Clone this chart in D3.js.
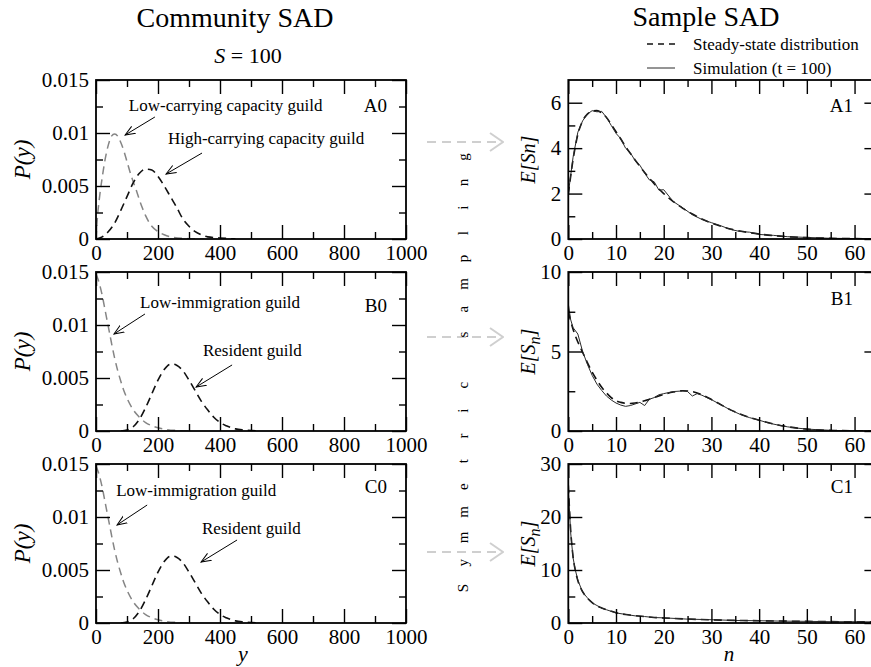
<!DOCTYPE html>
<html>
<head>
<meta charset="utf-8">
<script src="https://cdn.jsdelivr.net/npm/d3@7"></script>
<style>
  body { margin: 0; background: #fff; }
  svg { display: block; }
  text { font-family: "Liberation Serif", "DejaVu Serif", serif; fill: #000; }
</style>
</head>
<body>
<div id="chart"></div>
<script>
// ---- community SAD, P(y) ----
const a0LowY  = [0, 5, 10, 20, 30, 40, 50, 60, 70, 80, 90, 100, 110, 120, 130, 140, 150, 160, 180, 200, 220, 250, 300, 350];
const a0LowP  = [0, 0.0022, 0.0036, 0.0058, 0.0076, 0.0089, 0.0097, 0.0099, 0.0097, 0.0091, 0.0083, 0.0073, 0.0063, 0.0054, 0.0046, 0.0037, 0.0029, 0.0022, 0.0012, 0.0007, 0.0004, 0.00015, 0.00003, 0];
const a0HighY = [0, 20, 40, 60, 80, 100, 120, 140, 160, 180, 200, 220, 240, 260, 280, 300, 320, 340, 360, 400, 450];
const a0HighP = [0, 0.0002, 0.0007, 0.0015, 0.0027, 0.0040, 0.0053, 0.0062, 0.0066, 0.0065, 0.0059, 0.0050, 0.0040, 0.0030, 0.0019, 0.0012, 0.0007, 0.0004, 0.0002, 0.0001, 0];

// B0 and C0 show the same two guilds
const immLowY = [0, 10, 20, 30, 40, 50, 60, 70, 80, 90, 100, 120, 140, 160, 180, 200, 230, 260, 300];
const immLowP = [0.0148, 0.0140, 0.0128, 0.0113, 0.0098, 0.0083, 0.0069, 0.0057, 0.0047, 0.0038, 0.0031, 0.0020, 0.0013, 0.0008, 0.0005, 0.0003, 0.00013, 0.00005, 0];
const residY  = [80, 100, 120, 140, 160, 180, 200, 220, 240, 250, 260, 280, 300, 320, 340, 360, 380, 400, 420, 450, 480, 520];
const residP  = [0, 0.0001, 0.0004, 0.0011, 0.0022, 0.0035, 0.0048, 0.0058, 0.0063, 0.0063, 0.0062, 0.0057, 0.0048, 0.0038, 0.0028, 0.0020, 0.0013, 0.0008, 0.0005, 0.0002, 0.0001, 0];

// ---- sample SAD, E[Sn] ----
const nA1      = [0, 1, 2, 3, 4, 5, 6, 7, 8, 9, 10, 11, 12, 13, 14, 15, 16, 17, 18, 19, 20, 22, 24, 26, 28, 30, 32, 34, 36, 38, 40, 43, 46, 50, 55, 60, 65];
const a1Steady = [1.95, 3.5, 4.6, 5.2, 5.5, 5.63, 5.65, 5.55, 5.35, 5.05, 4.72, 4.4, 4.07, 3.77, 3.48, 3.2, 2.93, 2.67, 2.43, 2.2, 2.0, 1.65, 1.35, 1.1, 0.88, 0.7, 0.56, 0.44, 0.35, 0.28, 0.22, 0.15, 0.1, 0.06, 0.03, 0.015, 0.01];
const a1Sim    = [2.0, 3.6, 4.7, 5.2, 5.5, 5.65, 5.6, 5.62, 5.35, 5.0, 4.65, 4.42, 4.0, 3.8, 3.45, 3.25, 2.9, 2.6, 2.52, 2.15, 2.17, 1.65, 1.37, 1.07, 0.86, 0.72, 0.58, 0.42, 0.33, 0.3, 0.2, 0.16, 0.1, 0.07, 0.03, 0.02, 0.01];

const nB1      = [0, 1, 2, 3, 4, 5, 6, 7, 8, 9, 10, 11, 12, 13, 14, 15, 16, 17, 18, 20, 22, 24, 26, 28, 30, 32, 34, 36, 38, 40, 42, 44, 46, 48, 50, 53, 56, 60, 65];
const b1Steady = [7.5, 6.4, 5.6, 4.95, 4.3, 3.7, 3.2, 2.75, 2.4, 2.1, 1.9, 1.8, 1.74, 1.73, 1.76, 1.82, 1.9, 2.0, 2.1, 2.3, 2.45, 2.53, 2.48, 2.28, 1.98, 1.65, 1.33, 1.07, 0.85, 0.68, 0.52, 0.38, 0.27, 0.18, 0.12, 0.06, 0.03, 0.01, 0];
const nB1Sim   = [0, 0.5, 1, 2, 3, 4, 5, 6, 7, 8, 9, 10, 11, 12, 13, 14, 15, 16, 17, 18, 19, 20, 22, 24, 25, 26, 27, 28, 30, 32, 34, 36, 38, 40, 42, 44, 46, 48, 50, 53, 56, 60, 65];
const b1Sim    = [8.0, 7.0, 6.5, 6.1, 5.0, 4.2, 3.5, 2.95, 2.55, 2.2, 1.95, 1.76, 1.63, 1.55, 1.6, 1.7, 1.8, 1.6, 2.0, 2.1, 2.28, 2.35, 2.48, 2.52, 2.48, 2.2, 2.35, 2.25, 1.97, 1.65, 1.32, 1.05, 0.84, 0.68, 0.5, 0.37, 0.26, 0.18, 0.12, 0.07, 0.03, 0.01, 0];

const nC1      = [0, 0.5, 1, 1.5, 2, 3, 4, 5, 6, 7, 8, 10, 12, 14, 16, 18, 20, 25, 30, 35, 40, 45, 50, 55, 60, 65];
const c1Steady = [26, 17.5, 12.5, 9.8, 8.0, 5.9, 4.7, 3.85, 3.25, 2.85, 2.5, 1.95, 1.6, 1.38, 1.2, 1.05, 0.95, 0.75, 0.6, 0.5, 0.42, 0.36, 0.3, 0.26, 0.23, 0.2];
const c1Sim    = [25.5, 17, 12.3, 9.9, 8.1, 5.8, 4.75, 3.8, 3.3, 2.8, 2.5, 1.9, 1.62, 1.35, 1.22, 1.03, 0.97, 0.73, 0.62, 0.48, 0.43, 0.35, 0.31, 0.25, 0.24, 0.2];

// ---- ticks ----
const leftXTicks  = [0, 200, 400, 600, 800, 1000];
const leftXMinor  = [100, 300, 500, 700, 900];
const leftYTicks  = [0, 0.005, 0.01, 0.015];
const leftYMinor  = [0.0025, 0.0075, 0.0125];
const rightXTicks = [0, 10, 20, 30, 40, 50, 60];
const rightXMinor = [5, 15, 25, 35, 45, 55];
const a1YTicks = [0, 2, 4, 6],       a1YMinor = [1, 3, 5];
const b1YTicks = [0, 5, 10],         b1YMinor = [2.5, 7.5];
const c1YTicks = [0, 10, 20, 30],    c1YMinor = [5, 15, 25];

const samplingText = 'Symmetric sampling';

const W = 871, H = 667;
const svg = d3.select('#chart').append('svg').attr('width', W).attr('height', H);

const defs = svg.append('defs');
defs.append('marker').attr('id', 'head')
    .attr('viewBox', '0 -5 11 10').attr('refX', 10).attr('refY', 0)
    .attr('markerUnits', 'userSpaceOnUse').attr('markerWidth', 11).attr('markerHeight', 10)
    .attr('orient', 'auto')
  .append('path').attr('d', 'M0,-4L10,0L0,4').attr('fill', 'none').attr('stroke', '#000').attr('stroke-width', 1);
defs.append('marker').attr('id', 'bighead')
    .attr('viewBox', '0 -11 15 22').attr('refX', 14).attr('refY', 0)
    .attr('markerUnits', 'userSpaceOnUse').attr('markerWidth', 15).attr('markerHeight', 22)
    .attr('orient', 'auto')
  .append('path').attr('d', 'M1,-9L14,0L1,9').attr('fill', 'none').attr('stroke', '#cfcfcf').attr('stroke-width', 2);

const rows = [[80, 239], [272, 431], [464, 623]];
const leftRange = [96, 406], rightRange = [568.3, 878.4];

function zip(xs, ys) { return xs.map((v, i) => [v, ys[i]]); }

function drawAxes(g, x, y, xt, xm, yt, ym, yFmt) {
  const [x0, x1] = x.range(), [y1, y0] = y.range();
  const put = (axis, tr, showLabels) => {
    const a = g.append('g').attr('transform', tr).call(axis)
      .attr('font-family', null).attr('font-size', null);
    a.select('.domain').remove();
    a.selectAll('line').attr('stroke', '#000').attr('stroke-width', 1.4);
    a.selectAll('text').style('font-size', '21px').attr('fill', '#000');
    if (!showLabels) a.selectAll('text').remove();
  };
  put(d3.axisBottom(x).tickValues(xt).tickSize(-14).tickPadding(6).tickFormat(d3.format('d')), `translate(0,${y1})`, true);
  put(d3.axisBottom(x).tickValues(xm).tickSize(-7), `translate(0,${y1})`, false);
  put(d3.axisTop(x).tickValues(xt).tickSize(-14), `translate(0,${y0})`, false);
  put(d3.axisTop(x).tickValues(xm).tickSize(-7), `translate(0,${y0})`, false);
  put(d3.axisLeft(y).tickValues(yt).tickSize(-14).tickPadding(7).tickFormat(yFmt), `translate(${x0},0)`, true);
  put(d3.axisLeft(y).tickValues(ym).tickSize(-7), `translate(${x0},0)`, false);
  put(d3.axisRight(y).tickValues(yt).tickSize(-14), `translate(${x1},0)`, false);
  put(d3.axisRight(y).tickValues(ym).tickSize(-7), `translate(${x1},0)`, false);
  g.append('rect').attr('x', x0).attr('y', y0).attr('width', x1 - x0).attr('height', y1 - y0)
    .attr('fill', 'none').attr('stroke', '#000').attr('stroke-width', 1.8);
}

let clipId = 0;
function panel(o) {
  const x = d3.scaleLinear().domain(o.xDomain).range(o.xRange);
  const y = d3.scaleLinear().domain(o.yDomain).range([o.row[1], o.row[0]]);
  const g = svg.append('g');
  const id = 'clip' + (clipId++);
  defs.append('clipPath').attr('id', id).append('rect')
    .attr('x', o.xRange[0]).attr('y', o.row[0])
    .attr('width', o.xRange[1] - o.xRange[0]).attr('height', o.row[1] - o.row[0]);
  const line = d3.line().x(d => x(d[0])).y(d => y(d[1]));
  const cg = g.append('g').attr('clip-path', `url(#${id})`);
  o.series.forEach(s => {
    cg.append('path').datum(s.data)
      .attr('d', line.curve(s.curve || d3.curveMonotoneX))
      .attr('fill', 'none').attr('stroke', s.color).attr('stroke-width', s.width)
      .attr('stroke-dasharray', s.dash || null);
  });
  drawAxes(g, x, y, o.xt, o.xm, o.yt, o.ym, o.yFmt);
  (o.notes || []).forEach(n => {
    g.append('text').attr('x', x(n.tx)).attr('y', y(n.ty)).style('font-size', '17px').text(n.text);
    g.append('line').attr('x1', x(n.from[0])).attr('y1', y(n.from[1]))
      .attr('x2', x(n.to[0])).attr('y2', y(n.to[1]))
      .attr('stroke', '#000').attr('stroke-width', 1).attr('marker-end', 'url(#head)');
  });
  g.append('text').attr('x', o.label[1]).attr('y', o.label[2]).attr('text-anchor', 'end')
    .style('font-size', '19px').text(o.label[0]);
  return {x, y};
}

const gray = {color: '#858585', width: 1.5, dash: '8,5'};
const black = {color: '#111', width: 1.6, dash: '8,5'};
const sim = {color: '#2a2a2a', width: 1, curve: d3.curveLinear};
const pFmt = d => d === 0 ? '0' : String(d);

// left column
panel({
  row: rows[0], xRange: leftRange, xDomain: [0, 1000], yDomain: [0, 0.015],
  xt: leftXTicks, xm: leftXMinor, yt: leftYTicks, ym: leftYMinor, yFmt: pFmt,
  series: [Object.assign({data: zip(a0LowY, a0LowP)}, gray), Object.assign({data: zip(a0HighY, a0HighP)}, black)],
  notes: [
    {text: 'Low-carrying capacity guild', tx: 106, ty: 0.01208, from: [190, 0.01151], to: [94, 0.00981]},
    {text: 'High-carrying capacity guild', tx: 232, ty: 0.00896, from: [342, 0.00811], to: [226, 0.00613]}
  ],
  label: ['A0', 387, 111.7]
});
panel({
  row: rows[1], xRange: leftRange, xDomain: [0, 1000], yDomain: [0, 0.015],
  xt: leftXTicks, xm: leftXMinor, yt: leftYTicks, ym: leftYMinor, yFmt: pFmt,
  series: [Object.assign({data: zip(immLowY, immLowP)}, gray), Object.assign({data: zip(residY, residP)}, black)],
  notes: [
    {text: 'Low-immigration guild', tx: 142, ty: 0.01158, from: [158, 0.01104], to: [58, 0.00915]},
    {text: 'Resident guild', tx: 345, ty: 0.00708, from: [439, 0.00623], to: [323, 0.00415]}
  ],
  label: ['B0', 387, 311.7]
});
panel({
  row: rows[2], xRange: leftRange, xDomain: [0, 1000], yDomain: [0, 0.015],
  xt: leftXTicks, xm: leftXMinor, yt: leftYTicks, ym: leftYMinor, yFmt: pFmt,
  series: [Object.assign({data: zip(immLowY, immLowP)}, gray), Object.assign({data: zip(residY, residP)}, black)],
  notes: [
    {text: 'Low-immigration guild', tx: 65, ty: 0.01198, from: [165, 0.01113], to: [68, 0.00925]},
    {text: 'Resident guild', tx: 342, ty: 0.0084, from: [455, 0.00783], to: [339, 0.00575]}
  ],
  label: ['C0', 387, 493]
});

// right column
const steady = {color: '#111', width: 1.6, dash: '8,5'};
panel({
  row: rows[0], xRange: rightRange, xDomain: [0, 65], yDomain: [0, 7],
  xt: rightXTicks, xm: rightXMinor, yt: a1YTicks, ym: a1YMinor, yFmt: d3.format('d'),
  series: [Object.assign({data: zip(nA1, a1Steady)}, steady), Object.assign({data: zip(nA1, a1Sim)}, sim)],
  label: ['A1', 853, 111.7]
});
panel({
  row: rows[1], xRange: rightRange, xDomain: [0, 65], yDomain: [0, 10],
  xt: rightXTicks, xm: rightXMinor, yt: b1YTicks, ym: b1YMinor, yFmt: d3.format('d'),
  series: [Object.assign({data: zip(nB1, b1Steady)}, steady), Object.assign({data: zip(nB1Sim, b1Sim)}, sim)],
  label: ['B1', 853, 305]
});
panel({
  row: rows[2], xRange: rightRange, xDomain: [0, 65], yDomain: [0, 30],
  xt: rightXTicks, xm: rightXMinor, yt: c1YTicks, ym: c1YMinor, yFmt: d3.format('d'),
  series: [Object.assign({data: zip(nC1, c1Steady)}, steady), Object.assign({data: zip(nC1, c1Sim)}, sim)],
  label: ['C1', 853, 493]
});

// titles
svg.append('text').attr('x', 235).attr('y', 27).attr('text-anchor', 'middle').style('font-size', '28px').text('Community SAD');
svg.append('text').attr('x', 706).attr('y', 26).attr('text-anchor', 'middle').style('font-size', '28px').text('Sample SAD');
const sTitle = svg.append('text').attr('x', 248).attr('y', 63).attr('text-anchor', 'middle').style('font-size', '22px');
sTitle.append('tspan').style('font-style', 'italic').text('S');
sTitle.append('tspan').text(' = 100');

// legend
svg.append('line').attr('x1', 647).attr('x2', 675).attr('y1', 44).attr('y2', 44)
  .attr('stroke', '#111').attr('stroke-width', 1.6).attr('stroke-dasharray', '6,5');
svg.append('text').attr('x', 693).attr('y', 50).style('font-size', '17px').text('Steady-state distribution');
svg.append('line').attr('x1', 647).attr('x2', 675).attr('y1', 68).attr('y2', 68)
  .attr('stroke', '#2a2a2a').attr('stroke-width', 1);
svg.append('text').attr('x', 693).attr('y', 74).style('font-size', '17px').text('Simulation (t = 100)');

// axis titles
rows.forEach(r => {
  const cy = (r[0] + r[1]) / 2;
  svg.append('text').attr('transform', `translate(30,${cy}) rotate(-90)`).attr('text-anchor', 'middle')
    .style('font-size', '23px').style('font-style', 'italic').text('P(y)');
});
svg.append('text').attr('transform', `translate(535,${(rows[0][0] + rows[0][1]) / 2}) rotate(-90)`)
  .attr('text-anchor', 'middle').style('font-size', '20px').style('font-style', 'italic').text('E[Sn]');
[rows[1], rows[2]].forEach(r => {
  const t = svg.append('text').attr('transform', `translate(535,${(r[0] + r[1]) / 2}) rotate(-90)`)
    .attr('text-anchor', 'middle').style('font-size', '20px').style('font-style', 'italic');
  t.append('tspan').text('E[S');
  t.append('tspan').attr('dy', 5).style('font-size', '16px').text('n');
  t.append('tspan').attr('dy', -5).text(']');
});
svg.append('text').attr('x', 243).attr('y', 661).attr('text-anchor', 'middle').style('font-size', '22px').style('font-style', 'italic').text('y');
svg.append('text').attr('x', 729).attr('y', 661).attr('text-anchor', 'middle').style('font-size', '21px').style('font-style', 'italic').text('n');

// gray sampling arrows and vertical caption
[142, 337, 552].forEach(yy => {
  svg.append('line').attr('x1', 427).attr('x2', 503).attr('y1', yy).attr('y2', yy)
    .attr('stroke', '#cfcfcf').attr('stroke-width', 2).attr('stroke-dasharray', '9,6').attr('marker-end', 'url(#bighead)');
});
const pitch = 25.35;
svg.append('g').selectAll('text').data(samplingText.split('')).join('text')
  .attr('transform', (c, i) => `translate(468,${588 - i * pitch}) rotate(-90)`)
  .attr('text-anchor', 'middle').style('font-size', '15px').attr('fill', '#1a1a1a')
  .text(c => c);
</script>
</body>
</html>
